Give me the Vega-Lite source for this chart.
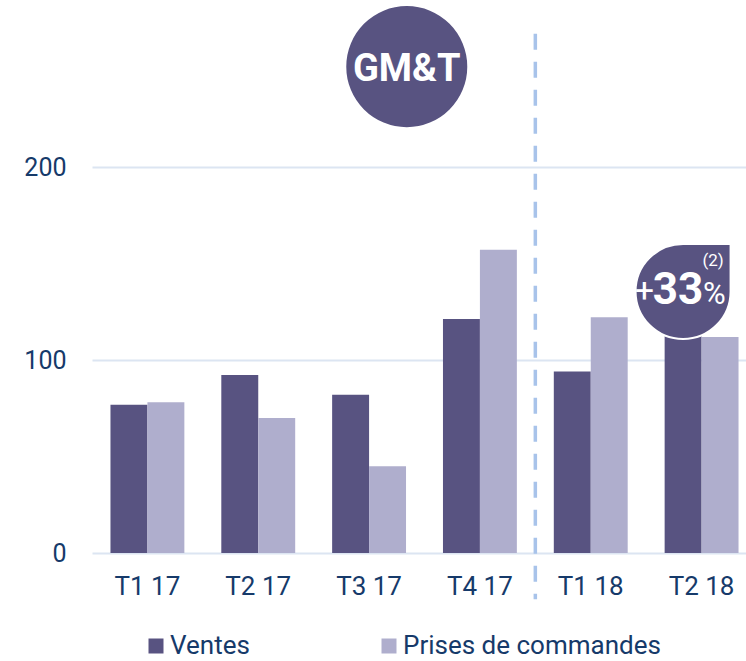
{
  "$schema": "https://vega.github.io/schema/vega-lite/v6.json",
  "autosize": "none",
  "padding": {"left": 92, "top": 167, "right": 0, "bottom": 108},
  "width": 665,
  "height": 386,
  "config": {"font": "Roboto", "view": {"stroke": null}},
  "datasets": {
    "bars": [
      {"quarter": "T1 17", "series": "Ventes", "value": 76.8},
      {"quarter": "T1 17", "series": "Prises de commandes", "value": 78.1},
      {"quarter": "T2 17", "series": "Ventes", "value": 92.2},
      {"quarter": "T2 17", "series": "Prises de commandes", "value": 69.9},
      {"quarter": "T3 17", "series": "Ventes", "value": 82.0},
      {"quarter": "T3 17", "series": "Prises de commandes", "value": 44.9},
      {"quarter": "T4 17", "series": "Ventes", "value": 121.2},
      {"quarter": "T4 17", "series": "Prises de commandes", "value": 157.1},
      {"quarter": "T1 18", "series": "Ventes", "value": 94.1},
      {"quarter": "T1 18", "series": "Prises de commandes", "value": 122.1},
      {"quarter": "T2 18", "series": "Ventes", "value": 122.0},
      {"quarter": "T2 18", "series": "Prises de commandes", "value": 111.9}
    ],
    "divider": [{"quarter": "T1 18", "top": 269, "bottom": -24}],
    "badge": [{"quarter": "T3 17", "value": 252, "label": "GM&T"}],
    "growth": [{"quarter": "T2 18", "value": 135.5, "plus": "+", "num": "33", "pct": "%", "note": "(2)"}]
  },
  "layer": [
    {
      "data": {"name": "bars"},
      "mark": {"type": "bar"},
      "encoding": {
        "x": {
          "field": "quarter", "type": "nominal",
          "scale": {"domain": ["T1 17", "T2 17", "T3 17", "T4 17", "T1 18", "T2 18"], "paddingInner": 0, "paddingOuter": 0},
          "axis": {"title": null, "domain": false, "ticks": false, "labelAngle": 0, "labelFontSize": 26, "labelColor": "#163a6a", "labelPadding": 20, "grid": false}
        },
        "xOffset": {
          "field": "series", "type": "nominal",
          "scale": {"domain": ["Ventes", "Prises de commandes"], "paddingOuter": 0.5, "paddingInner": 0}
        },
        "y": {
          "field": "value", "type": "quantitative",
          "scale": {"domain": [0, 200], "nice": false},
          "axis": {"title": null, "values": [0, 100, 200], "domain": false, "ticks": false, "labelFontSize": 25, "labelColor": "#163a6a", "labelPadding": 26, "gridColor": "#dce5f2", "gridWidth": 2}
        },
        "color": {
          "field": "series", "type": "nominal",
          "scale": {"domain": ["Ventes", "Prises de commandes"], "range": ["#585381", "#afaecd"]},
          "legend": {
            "title": null, "orient": "none", "direction": "horizontal", "legendX": 51, "legendY": 466,
            "symbolType": "square", "symbolSize": 225, "symbolStrokeWidth": 0, "labelFontSize": 26, "labelColor": "#163a6a",
            "labelOffset": 1, "columnPadding": 126, "labelLimit": 400
          }
        }
      }
    },
    {
      "data": {"name": "divider"},
      "mark": {"type": "rule", "color": "#a8c3ea", "strokeWidth": 3.5, "strokeDash": [16, 12], "clip": false},
      "encoding": {
        "x": {"field": "quarter", "type": "nominal", "bandPosition": 0},
        "y": {"field": "top", "type": "quantitative"},
        "y2": {"field": "bottom"}
      }
    },
    {
      "data": {"name": "badge"},
      "mark": {"type": "point", "shape": "circle", "filled": true, "opacity": 1, "color": "#585381", "size": 14641, "clip": false},
      "encoding": {
        "x": {"field": "quarter", "type": "nominal", "bandPosition": 0.84},
        "y": {"field": "value", "type": "quantitative"}
      }
    },
    {
      "data": {"name": "badge"},
      "mark": {"type": "text", "color": "white", "fontSize": 38, "fontWeight": "bold", "align": "center", "baseline": "alphabetic", "dy": 14, "clip": false},
      "encoding": {
        "x": {"field": "quarter", "type": "nominal", "bandPosition": 0.84},
        "y": {"field": "value", "type": "quantitative"},
        "text": {"field": "label"}
      }
    },
    {
      "data": {"name": "growth"},
      "mark": {"type": "point", "shape": "M -1 0 A 1 1 0 0 1 0 -1 L 1 -1 L 1 0 A 1 1 0 0 1 0 1 A 1 1 0 0 1 -1 0 Z", "filled": true, "opacity": 1, "color": "#585381", "stroke": "white", "strokeWidth": 2, "size": 9025, "clip": false},
      "encoding": {
        "x": {"field": "quarter", "type": "nominal", "bandPosition": 0.333},
        "y": {"field": "value", "type": "quantitative"}
      }
    },
    {
      "data": {"name": "growth"},
      "mark": {"type": "text", "color": "white", "fontSize": 44, "fontWeight": "bold", "align": "center", "baseline": "alphabetic", "dx": -5, "dy": 13, "clip": false},
      "encoding": {
        "x": {"field": "quarter", "type": "nominal", "bandPosition": 0.333},
        "y": {"field": "value", "type": "quantitative"},
        "text": {"field": "num"}
      }
    },
    {
      "data": {"name": "growth"},
      "mark": {"type": "text", "color": "white", "fontSize": 34, "align": "right", "baseline": "alphabetic", "dx": -29, "dy": 11, "clip": false},
      "encoding": {
        "x": {"field": "quarter", "type": "nominal", "bandPosition": 0.333},
        "y": {"field": "value", "type": "quantitative"},
        "text": {"field": "plus"}
      }
    },
    {
      "data": {"name": "growth"},
      "mark": {"type": "text", "color": "white", "fontSize": 31, "align": "left", "baseline": "alphabetic", "dx": 20, "dy": 13, "clip": false},
      "encoding": {
        "x": {"field": "quarter", "type": "nominal", "bandPosition": 0.333},
        "y": {"field": "value", "type": "quantitative"},
        "text": {"field": "pct"}
      }
    },
    {
      "data": {"name": "growth"},
      "mark": {"type": "text", "color": "white", "fontSize": 17, "align": "center", "baseline": "alphabetic", "dx": 30, "dy": -25, "clip": false},
      "encoding": {
        "x": {"field": "quarter", "type": "nominal", "bandPosition": 0.333},
        "y": {"field": "value", "type": "quantitative"},
        "text": {"field": "note"}
      }
    }
  ]
}
